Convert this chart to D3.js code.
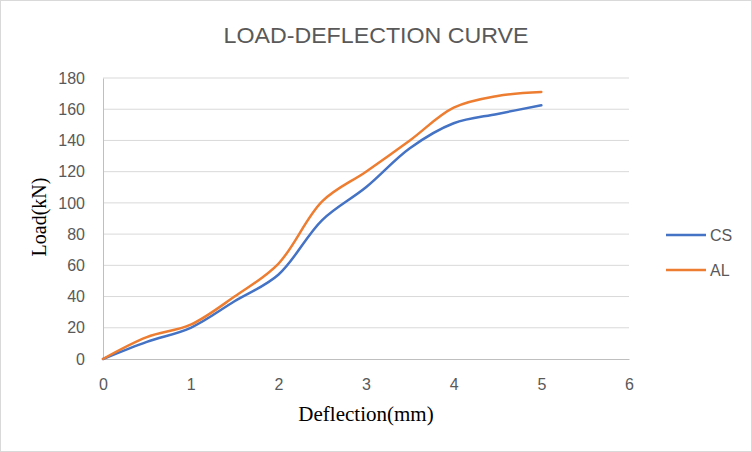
<!DOCTYPE html>
<html>
<head>
<meta charset="utf-8">
<script src="https://cdn.jsdelivr.net/npm/d3@7"></script>
<style>
  body { margin: 0; background: #fff; }
  svg { display: block; }
</style>
</head>
<body>
<div id="chart"></div>
<script>
// values
const deflection = [0, 0.5, 1, 1.5, 2, 2.5, 3, 3.5, 4, 4.5, 5];
const loadCS = [0, 11, 20, 37, 54, 89, 110, 135, 151, 157, 162.5];
const loadAL = [0, 14, 22, 40, 61, 101, 120, 140, 161, 168.5, 171];
const seriesNames = ["CS", "AL"];
const xTicks = [0, 1, 2, 3, 4, 5, 6];
const yTicks = [0, 20, 40, 60, 80, 100, 120, 140, 160, 180];

const width = 752, height = 452;
const margin = { top: 78, right: 123, bottom: 93, left: 103 };

const svg = d3.select("#chart").append("svg")
  .attr("width", width)
  .attr("height", height);

svg.append("rect")
  .attr("x", 0.5).attr("y", 0.5)
  .attr("width", width - 1).attr("height", height - 1)
  .attr("fill", "#fff")
  .attr("stroke", "#d9d9d9");

const x = d3.scaleLinear()
  .domain([0, 6])
  .range([margin.left, width - margin.right]);

const y = d3.scaleLinear()
  .domain([0, 180])
  .range([height - margin.bottom, margin.top]);

// gridlines
svg.append("g")
  .selectAll("line")
  .data(yTicks.slice(1))
  .enter()
  .append("line")
  .attr("x1", x(0)).attr("x2", x(6))
  .attr("y1", d => y(d)).attr("y2", d => y(d))
  .attr("stroke", "#d9d9d9")
  .attr("stroke-width", 1);

// y axis (line + labels)
const yAxis = svg.append("g")
  .attr("transform", `translate(${x(0)},0)`)
  .call(d3.axisLeft(y).tickValues(yTicks).tickSize(0).tickPadding(18).tickFormat(d3.format("d")));
yAxis.select(".domain").attr("stroke", "#bfbfbf");
yAxis.selectAll("text")
  .attr("font-family", "Liberation Sans, Arial, sans-serif")
  .attr("font-size", "16px")
  .attr("fill", "#595959");

// x axis
const xAxis = svg.append("g")
  .attr("transform", `translate(0,${y(0)})`)
  .call(d3.axisBottom(x).tickValues(xTicks).tickSize(0).tickPadding(20).tickFormat(d3.format("d")));
xAxis.select(".domain").attr("stroke", "#bfbfbf");
xAxis.selectAll("text")
  .attr("font-family", "Liberation Sans, Arial, sans-serif")
  .attr("font-size", "16px")
  .attr("fill", "#595959");

const colors = { CS: "#4472C4", AL: "#ED7D31" };

const line = d3.line()
  .x((d, i) => x(deflection[i]))
  .y(d => y(d))
  .curve(d3.curveCatmullRom.alpha(0.5));

[["CS", loadCS], ["AL", loadAL]].forEach(([name, vals]) => {
  svg.append("path")
    .datum(vals)
    .attr("fill", "none")
    .attr("stroke", colors[name])
    .attr("stroke-width", 2.5)
    .attr("stroke-linecap", "round")
    .attr("d", line);
});

// title
svg.append("text")
  .attr("x", 376)
  .attr("y", 43)
  .attr("text-anchor", "middle")
  .attr("font-family", "Liberation Sans, Arial, sans-serif")
  .attr("font-size", "22px")
  .attr("fill", "#595959")
  .attr("textLength", 305)
  .attr("lengthAdjust", "spacingAndGlyphs")
  .text("LOAD-DEFLECTION CURVE");

// axis titles
svg.append("text")
  .attr("x", 366)
  .attr("y", 421)
  .attr("text-anchor", "middle")
  .attr("font-family", "Liberation Serif, Times New Roman, serif")
  .attr("font-size", "21px")
  .attr("fill", "#000")
  .text("Deflection(mm)");

svg.append("text")
  .attr("transform", "translate(46,217) rotate(-90)")
  .attr("text-anchor", "middle")
  .attr("font-family", "Liberation Serif, Times New Roman, serif")
  .attr("font-size", "20px")
  .attr("fill", "#000")
  .text("Load(kN)");

// legend
const legend = svg.append("g").attr("transform", "translate(666,235)");
seriesNames.forEach((name, i) => {
  legend.append("line")
    .attr("x1", 0).attr("x2", 40)
    .attr("y1", i * 35).attr("y2", i * 35)
    .attr("stroke", colors[name])
    .attr("stroke-width", 2.5);
  legend.append("text")
    .attr("x", 44)
    .attr("y", i * 35 + 6)
    .attr("font-family", "Liberation Sans, Arial, sans-serif")
    .attr("font-size", "16px")
    .attr("fill", "#595959")
    .text(name);
});
</script>
</body>
</html>
